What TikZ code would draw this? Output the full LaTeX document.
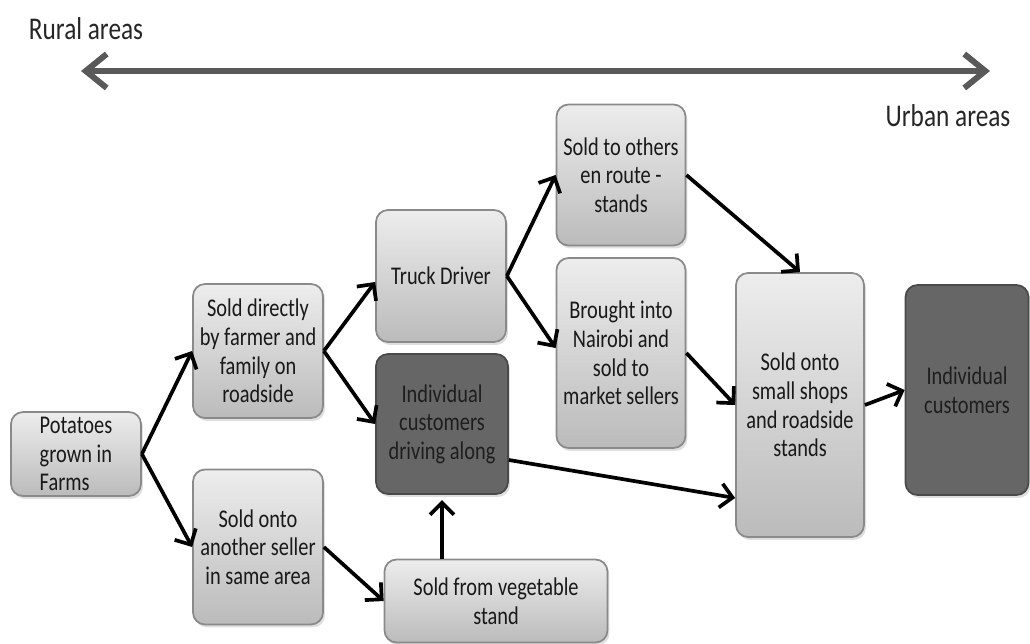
\documentclass[tikz,border=0pt]{standalone}
\usepackage{fontspec}
\setmainfont{Carlito}[FakeStretch=0.8]
\usetikzlibrary{arrows.meta,shadows,calc}

\definecolor{boxtop}{HTML}{EDEDED}
\definecolor{boxbottom}{HTML}{BBBBBB}
\definecolor{boxline}{HTML}{8A8A8A}
\definecolor{darkfill}{HTML}{666666}
\definecolor{darkline}{HTML}{4A4A4A}
\definecolor{darktext}{HTML}{1E1E1E}
\definecolor{axisgray}{HTML}{595959}

\begin{document}
\begin{tikzpicture}[x=0.02cm,y=-0.02cm]

  % Definitions
  \tikzstyle{Stage} = [rectangle, rounded corners=0.24cm, draw=boxline, line width=1pt, top color=boxtop, bottom color=boxbottom, text=black!90, align=center, inner sep=0pt, font=\fontsize{14.5}{16.3}\selectfont, drop shadow={opacity=0.25, shadow xshift=0.04cm, shadow yshift=-0.06cm}]
  \tikzstyle{Buyer} = [Stage, top color=darkfill, bottom color=darkfill, fill=darkfill, draw=darkline, text=darktext]
  \tikzstyle{arrow} = [line width=2.1pt, -{Straight Barb[length=2.4mm,width=4.8mm]}]
  \tikzstyle{axis} = [line width=3.4pt, draw=axisgray, {Straight Barb[length=4.2mm,width=6.8mm]}-{Straight Barb[length=4.2mm,width=6.8mm]}]
  \tikzstyle{area} = [font=\fontsize{18}{20}\selectfont, text=black!85, inner sep=0pt]

  \useasboundingbox (0,0) rectangle (1030,644);

  % rural / urban axis
  \node (rural) [area] at (86,29) {Rural areas};
  \node (urban) [area] at (948,116) {Urban areas};
  \coordinate (ruralend) at (81,71);
  \coordinate (urbanend) at (990,71);
  \draw [axis] (ruralend) -- (urbanend);

  % stages
  \node (pot) [Stage, minimum width=2.6cm, minimum height=1.68cm, align=left] at (76,454) {Potatoes\\grown in\\Farms};
  \node (direct) [Stage, minimum width=2.6cm, minimum height=2.68cm] at (258,351) {Sold directly\\by farmer and\\family on\\roadside};
  \node (another) [Stage, minimum width=2.6cm, minimum height=3.1cm] at (258,547) {Sold onto\\another seller\\in same area};
  \node (truck) [Stage, minimum width=2.6cm, minimum height=2.64cm] at (441,276) {Truck Driver};
  \node (drive) [Buyer, minimum width=2.64cm, minimum height=2.8cm] at (442,424) {Individual\\customers\\driving along};
  \node (veg) [Stage, minimum width=4.46cm, minimum height=1.66cm] at (496,601) {Sold from vegetable\\stand};
  \node (others) [Stage, minimum width=2.58cm, minimum height=2.82cm] at (621,175) {Sold to others\\en route -\\stands};
  \node (nairobi) [Stage, minimum width=2.58cm, minimum height=3.8cm] at (621,353) {Brought into\\Nairobi and\\sold to\\market sellers};
  \node (shops) [Stage, minimum width=2.56cm, minimum height=5.28cm] at (800,405) {Sold onto\\small shops\\and roadside\\stands};
  \node (cust) [Buyer, minimum width=2.46cm, minimum height=4.2cm] at (967,390) {Individual\\customers};

  \draw [arrow] (pot.east) -- (direct.west);
  \draw [arrow] (pot.east) -- (another.west);
  \draw [arrow] (direct.east) -- ($(truck.west)+(0,6)$);
  \draw [arrow] (direct.east) -- (drive.west);
  \draw [arrow] (another.east) -- (veg.west);
  \draw [arrow, shorten >=3pt] (veg.north -| drive.south) -- (drive.south);
  \draw [arrow] (truck.east) -- (others.west);
  \draw [arrow] (truck.east) -- ($(nairobi.west)+(0,-5)$);
  \draw [arrow] (others.east) -- (shops.north);
  \draw [arrow] (nairobi.east) -- (shops.west);
  \draw [arrow] ($(drive.east)+(0,36)$) -- ($(shops.west)+(0,93)$);
  \draw [arrow] (shops.east) -- (cust.west);

\end{tikzpicture}
\end{document}
